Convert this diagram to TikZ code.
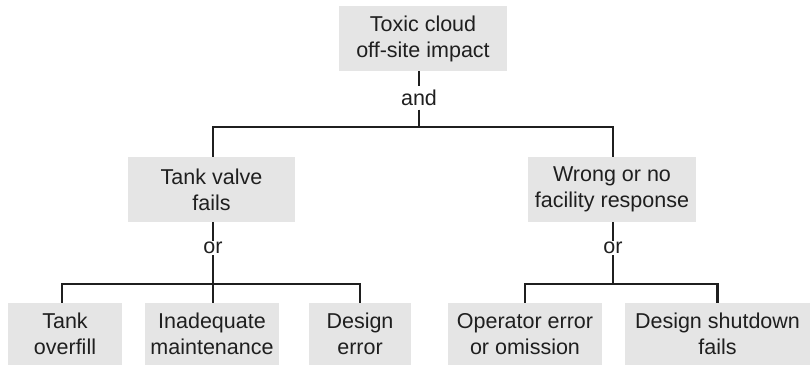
\documentclass[tikz,border=0pt]{standalone}
\usepackage{fontspec}
\setmainfont{Liberation Sans}
\usepackage{tikz}
\usetikzlibrary{calc}
\definecolor{boxgray}{gray}{0.9}
\definecolor{inkgray}{gray}{0.12}

\begin{document}
\begin{tikzpicture}[x=1pt,y=-1pt,
	box/.style={fill=boxgray, text=inkgray, align=center, inner sep=0pt,
		font=\fontsize{21.5}{26}\selectfont},
	gate/.style={text=inkgray, inner sep=1pt, font=\fontsize{21.5}{26}\selectfont},
	link/.style={draw=inkgray, line width=2.7pt}]
	\useasboundingbox (0,0) rectangle (810,365);
	%
	\node[box, minimum width=168, minimum height=65] (cloud)    at (423,38.5)  {Toxic cloud\\off-site impact};
	\node[gate, inner ysep=3.5pt] (and)                         at (419,98)    {and};
	%
	\node[box, minimum width=167, minimum height=65] (valve)    at (211.5,189.5) {Tank valve\\fails};
	\node[box, minimum width=168, minimum height=65] (response) at (612,189.5)   {Wrong or no\\facility response};
	\node[gate] (orL) at (213,248) {or};
	\node[gate] (orR) at (613,248) {or};
	%
	\node[box, minimum width=114, minimum height=62] (overfill) at (65,334)    {Tank\\overfill};
	\node[box, minimum width=134, minimum height=62] (maint)    at (212,334)   {Inadequate\\maintenance};
	\node[box, minimum width=102, minimum height=62] (design)   at (360,334)   {Design\\error};
	\node[box, minimum width=154, minimum height=62] (operator) at (525,334)   {Operator error\\or omission};
	\node[box, minimum width=185, minimum height=62] (shutdown) at (717.5,334) {Design shutdown\\fails};
	
	%junctions
	\coordinate (andbar) at (419,127);
	\coordinate (orLbar) at (213,284);
	\coordinate (orRbar) at (613,284);
	
	%top gate
	\draw[link] (cloud.south -| and) -- (and.north);
	\draw[link] (and.south) -- (andbar);
	\draw[link] (valve.north -| orL) |- (andbar) -| (response.north -| orR);
	
	%left gate
	\draw[link] (valve.south -| orL) -- (orL.north);
	\draw[link] (orL.south) -- (orLbar);
	\draw[link] ([xshift=-3pt]overfill.north) |- (orLbar) -| (design.north);
	\draw[link] (maint.north -| orLbar) -- (orLbar);
	
	%right gate
	\draw[link] (response.south -| orR) -- (orR.north);
	\draw[link] (orR.south) -- (orRbar);
	\draw[link] (operator.north) |- (orRbar) -| (shutdown.north);
\end{tikzpicture}
\end{document}
